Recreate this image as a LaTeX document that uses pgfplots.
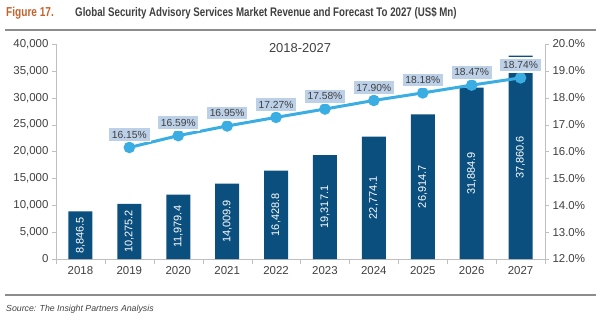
\documentclass[border=0pt]{standalone}
\usepackage{fontspec}
\setmainfont{Liberation Sans}
\newfontfamily\condfont[FakeStretch=0.78]{Liberation Sans}
\usepackage{pgfplots}
\pgfplotsset{compat=1.18}
\usepackage{pgfplotstable}
\definecolor{barblue}{HTML}{0B4F7F}
\definecolor{lineblue}{HTML}{3AAEE2}
\definecolor{boxblue}{HTML}{BCD0E8}
\definecolor{figorange}{HTML}{C4622D}
\definecolor{titlegray}{HTML}{404040}
\definecolor{axisgray}{HTML}{BFBFBF}
\definecolor{rulegray}{HTML}{8C8C8C}
\pgfplotstableread{
x v
0 8846.5
1 10275.2
2 11979.4
3 14009.9
4 16428.8
5 19317.1
6 22774.1
7 26914.7
8 31884.9
9 37860.6
}\revdata
\pgfplotstableread{
x g
1 16.15
2 16.59
3 16.95
4 17.27
5 17.58
6 17.90
7 18.18
8 18.47
9 18.74
}\growthdata
\begin{document}
\begin{tikzpicture}[x=1bp,y=1bp]
\useasboundingbox (0,0) rectangle (600,321);
\node[anchor=west, inner sep=0, font=\condfont\bfseries\fontsize{13}{15}\selectfont, text=figorange] at (6,308) {Figure 17.};
\node[anchor=west, inner sep=0, font=\condfont\bfseries\fontsize{12.5}{15}\selectfont, text=titlegray] at (75,308) {Global Security Advisory Services Market Revenue and Forecast To 2027 (US\$ Mn)};
\draw[rulegray, line width=1.5bp] (5,291) -- (596,291);
\draw[rulegray, line width=1.5bp] (5,26) -- (596,26);
\node[anchor=west, inner sep=0, font=\itshape\fontsize{8.8}{10}\selectfont, text=titlegray] at (6,12) {Source: The Insight Partners Analysis};
\begin{axis}[
  at={(56bp,62bp)}, anchor=south west,
  scale only axis, width=489bp, height=215bp,
  xmin=-0.5, xmax=9.5, ymin=0, ymax=40000,
  axis x line*=bottom, axis y line*=left,
  axis line style={axisgray},
  xtick={0,...,9},
  xticklabels={2018,2019,2020,2021,2022,2023,2024,2025,2026,2027},
  major x tick style={draw=none},
  minor xtick={-0.5,0.5,...,9.5},
  minor x tick style={axisgray},
  minor tick length=5bp,
  major tick length=4bp,
  tick align=outside,
  ytick={0,5000,...,40000},
  y tick style={axisgray},
  scaled y ticks=false,
  /pgf/number format/1000 sep={,},
  /pgf/number format/assume math mode=true,
  ticklabel style={font=\fontsize{11.5}{13}\selectfont, text=titlegray},
  clip=false,
]
\addplot[ybar, bar width=24bp, fill=barblue, draw=none] table[x=x, y=v] {\revdata};
\addplot[draw=none, mark=none,
  nodes near coords={\pgfmathprintnumber[fixed,fixed zerofill,precision=1,1000 sep={,},assume math mode=true]{\pgfplotspointmeta}},
  point meta=explicit,
  every node near coord/.style={rotate=90, anchor=center, text=white, font=\fontsize{11}{13}\selectfont, inner sep=0pt}]
  table[x=x, y expr=\thisrow{v}/2, meta=v] {\revdata};
\end{axis}
\begin{axis}[
  at={(56bp,62bp)}, anchor=south west,
  scale only axis, width=489bp, height=215bp,
  xmin=-0.5, xmax=9.5, ymin=12, ymax=20,
  axis x line=none, axis y line*=right,
  axis line style={axisgray},
  y tick style={axisgray},
  major tick length=4bp,
  tick align=outside,
  ytick={12,13,...,20},
  yticklabel={\pgfmathprintnumber[fixed,fixed zerofill,precision=1,assume math mode=true]{\tick}\%},
  ticklabel style={font=\fontsize{11.5}{13}\selectfont, text=titlegray},
  clip=false,
]
\addplot[lineblue, line width=3bp, mark=*, mark size=4.2bp, mark options={fill=lineblue, draw=lineblue},
  nodes near coords={\pgfmathprintnumber[fixed,fixed zerofill,precision=2,assume math mode=true]{\pgfplotspointmeta}\%},
  point meta=explicit,
  every node near coord/.style={anchor=south, yshift=5bp, fill=boxblue, draw=white, line width=1.5bp, text=titlegray, font=\fontsize{10.3}{12}\selectfont, inner xsep=3.5bp, inner ysep=3.5bp}]
  table[x=x, y=g, meta=g] {\growthdata};
\end{axis}
\node[font=\fontsize{13}{15}\selectfont, text=titlegray] at (300,273) {2018-2027};
\end{tikzpicture}
\end{document}
